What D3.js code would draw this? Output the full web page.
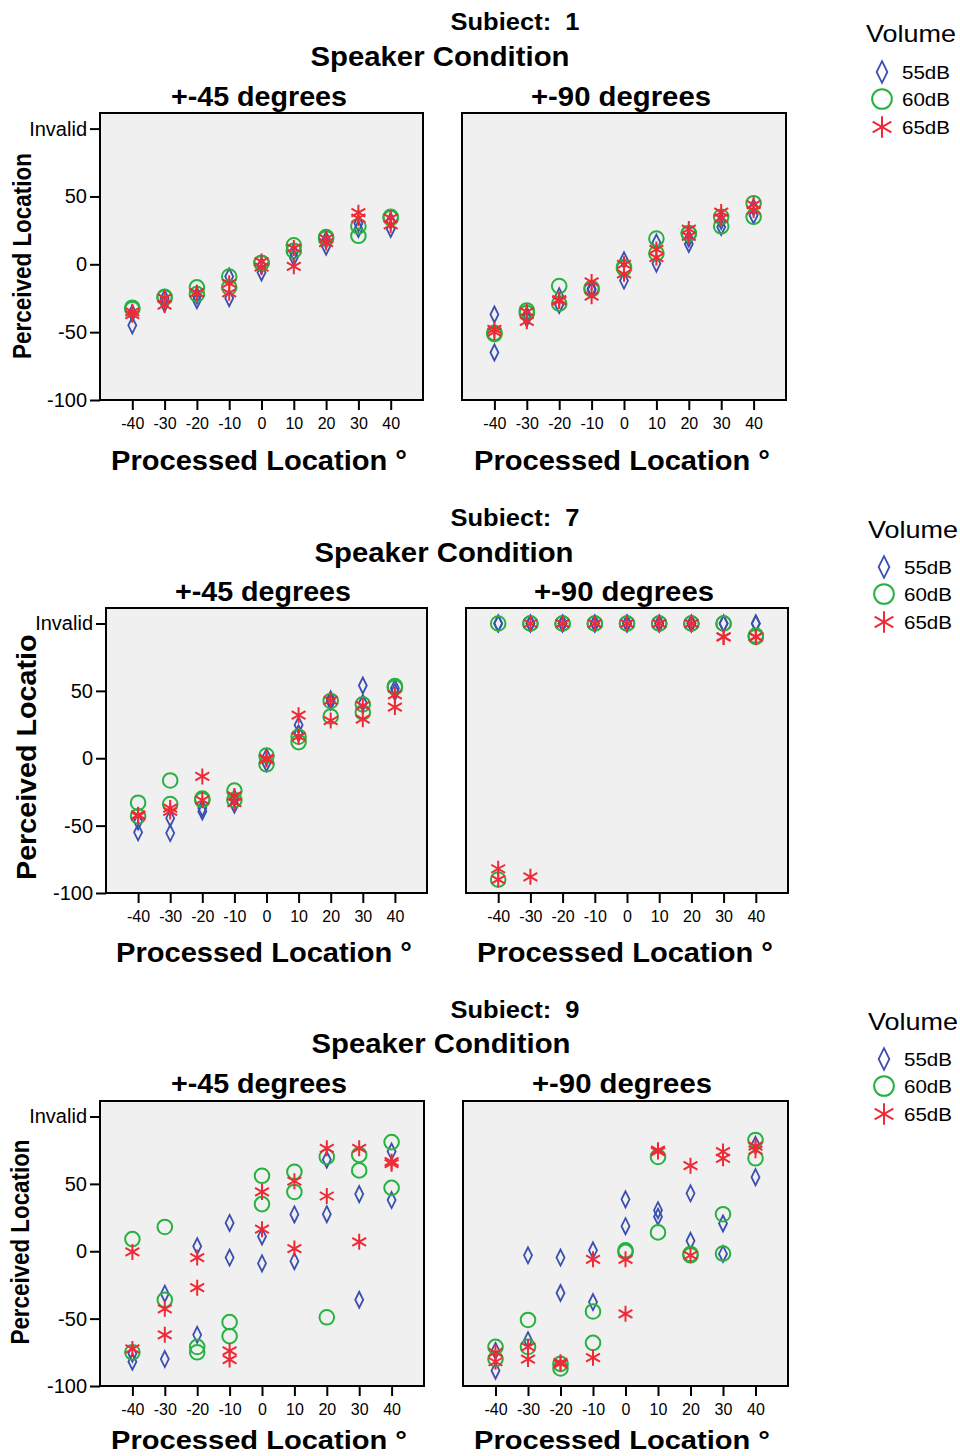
<!DOCTYPE html>
<html><head><meta charset="utf-8">
<script src="https://cdn.jsdelivr.net/npm/d3@7"></script>
<style>body{margin:0;background:#fff}</style></head>
<body><svg id="c" width="960" height="1456"></svg>
<script>
// ---------- data ----------
const xCategories = [-40,-30,-20,-10,0,10,20,30,40];
const xTickLabels = ["-40","-30","-20","-10","0","10","20","30","40"];
const yTickValues = [-100,-50,0,50,100];
const yTickLabels = ["-100","-50","0","50","Invalid"];
const volumes = ["55dB","60dB","65dB"];
const conditions = ["+-45 degrees","+-90 degrees"];
const subjects = ["1","7","9"];
// Invalid responses are plotted at 100

// Subject 1, +-45
const s1_45_55 = [[-45,-36],[-29,-25],[-26.5,-23],[-25,-9],[-6,-1],[5,9],[13,18],[26,30],[26,32]];
const s1_45_60 = [[-32,-33],[-24.5,-24],[-17,-22],[-9,-17],[1,1],[14,10],[20,19],[28,21],[35,34]];
const s1_45_65 = [[-35,-37],[-25,-30],[-21,-21],[-14,-21],[2,-2],[12,-1.5],[19,16],[38,34],[34,29]];
// Subject 1, +-90
const s1_90_55 = [[-37,-65],[-37.5,-40],[-23.5,-30],[-18,-19],[3,-12],[16,0.5],[15,19],[27.5,32],[36,42]];
const s1_90_60 = [[-51.5,-50.5],[-34,-36],[-16,-29],[-17.5,-18.5],[-2,-3],[19,8],[23,22.5],[35,28],[45,35]];
const s1_90_65 = [[-48,-50],[-35,-42],[-26,-27],[-13,-23.5],[0,-7],[11,5],[26,20.5],[38.5,34],[44,40]];
// Subject 7, +-45
const s7_45_55 = [[-55,-47],[-55.5,-44.5],[-39.5,-37],[-34.5,-29.5],[-3.7,1],[24.7,18.5],[42,43.7],[54,41],[52,49]];
const s7_45_60 = [[-33,-43],[-16.5,-34],[-30,-31],[-24,-31],[2,-4.5],[16,12],[42.5,31],[40,34],[53.5,52.5]];
const s7_45_65 = [[-42,-43],[-37,-39.5],[-13.5,-31],[-28,-33],[0,-1],[32,16],[43,28],[39,29],[47,38]];
// Subject 7, +-90
const s7_90_55 = [[100,100],[100,100],[100,100],[100,100],[100,100],[100,100],[100,100],[100,100],[100,100]];
const s7_90_60 = [[100,-90],[100,100],[100,100],[100,100],[100,100],[100,100],[100,100],[100,100],[90,91]];
const s7_90_65 = [[-82,-90],[100,-88],[100,100],[100,100],[100,100],[100,100],[100,100],[90,90],[90,90]];
// Subject 9, +-45
const s9_45_55 = [[-82,-76],[-31.5,-80],[3.7,-62],[21,-4.7],[11,-9],[27.3,-7.4],[68,27.5],[42.4,-36],[74,38]];
const s9_45_60 = [[9,-75],[18,-36],[-71,-75],[-52.6,-63],[56,35],[59,44],[70,-49],[71.5,60],[81,47]];
const s9_45_65 = [[-0.5,-72.5],[-42.7,-62],[-4.7,-27],[-74,-80.4],[44,16.4],[52,2],[76.4,41],[76.4,7],[66.5,65]];
// Subject 9, +-90
const s9_90_55 = [[-88.6,-74],[-3,-66],[-4.7,-31],[0.7,-37.7],[38.5,18.6],[30.5,25.6],[43,7.7],[20.6,-2],[55,79]];
const s9_90_60 = [[-71,-80],[-51,-71],[-83.6,-87],[-44.7,-68],[0.7,-0.5],[70,14],[-3,-2],[27.5,-1.7],[82.6,69]];
const s9_90_65 = [[-75,-82],[-71,-80],[-82.4,-83.6],[-6,-79],[-6,-46.4],[75,74],[63.5,-3],[74,69],[78,75]];

const panelData = [
  [[s1_45_55,s1_45_60,s1_45_65],[s1_90_55,s1_90_60,s1_90_65]],
  [[s7_45_55,s7_45_60,s7_45_65],[s7_90_55,s7_90_60,s7_90_65]],
  [[s9_45_55,s9_45_60,s9_45_65],[s9_90_55,s9_90_60,s9_90_65]]
];

// ---------- layout ----------
const FONT = "'Liberation Sans', Arial, Helvetica, sans-serif";
const COLORS = ["#3a4fb0","#27b240","#ee2a36"];
const rows = [
  {top:113, bottom:400, panels:[[100,423],[462,786]], subj:[515,30], speaker:[440,66], cond:[[259,106],[621,106]],
   xt:[[259,470],[622,470]], xtSize:27, yt:{x:31, cy:256, size:25, len:206}, legend:[866,42,882,[72,99,127]]},
  {top:608, bottom:893, panels:[[106,427],[466,788]], subj:[515,526], speaker:[444,562], cond:[[263,601],[624,601]],
   xt:[[264,962],[625,962]], xtSize:27, yt:{x:36, start:880, size:28, len:263, clip:634}, legend:[868,538,884,[567,594,622]]},
  {top:1101, bottom:1386, panels:[[100,424],[463,788]], subj:[515,1018], speaker:[441,1053], cond:[[259,1093],[622,1093]],
   xt:[[259,1449],[622,1449]], xtSize:26, yt:{x:29, cy:1242, size:25, len:205}, legend:[868,1030,884,[1059,1086,1114]]}
];

const svg = d3.select("#c");
svg.append("rect").attr("width",960).attr("height",1456).attr("fill","#fff");

function txt(g, x, y, s, o) {
  const t = g.append("text").attr("x",x).attr("y",y).text(s)
    .attr("font-family",FONT).attr("font-size",o.size)
    .attr("font-weight",o.bold?"bold":"normal")
    .attr("text-anchor",o.anchor||"middle").attr("fill","#000")
    .style("white-space","pre");
  if (o.len) t.attr("textLength",o.len).attr("lengthAdjust","spacingAndGlyphs");
  return t;
}

function marker(g, type, x, y, sc) {
  if (type===0) {
    const w=8*sc, h=16*sc;
    g.append("path").attr("d",`M${x},${y-h/2}L${x+w/2},${y}L${x},${y+h/2}L${x-w/2},${y}Z`)
      .attr("fill","none").attr("stroke",COLORS[0]).attr("stroke-width",1.8);
  } else if (type===1) {
    g.append("circle").attr("cx",x).attr("cy",y).attr("r",7.3*sc)
      .attr("fill","none").attr("stroke",COLORS[1]).attr("stroke-width",2);
  } else {
    const r=8*sc; let d="";
    [90,30,150].forEach(a=>{const rad=a*Math.PI/180, dx=r*Math.cos(rad), dy=r*Math.sin(rad);
      d+=`M${x-dx},${y+dy}L${x+dx},${y-dy}`;});
    g.append("path").attr("d",d).attr("fill","none").attr("stroke",COLORS[2]).attr("stroke-width",2);
  }
}

rows.forEach((R, ri) => {
  const g = svg.append("g");
  txt(g, R.subj[0], R.subj[1], "Subiect:  " + subjects[ri], {size:23, bold:true, len:129});
  txt(g, R.speaker[0], R.speaker[1], "Speaker Condition", {size:28, bold:true, len:259});

  // y title
  if (R.yt.clip) {
    const cid = "clipY"+ri;
    svg.append("clipPath").attr("id",cid).append("rect").attr("x",0).attr("y",R.yt.clip).attr("width",80).attr("height",400);
    const yg = g.append("g").attr("clip-path",`url(#${cid})`);
    txt(yg, 0, 0, "Perceived Location", {size:R.yt.size, bold:true, anchor:"start", len:R.yt.len})
      .attr("transform",`translate(${R.yt.x},${R.yt.start}) rotate(-90)`);
  } else {
    txt(g, 0, 0, "Perceived Location", {size:R.yt.size, bold:true, len:R.yt.len})
      .attr("transform",`translate(${R.yt.x},${R.yt.cy}) rotate(-90)`);
  }

  const y = d3.scaleLinear().domain([-100,111.5]).range([R.bottom, R.top]);

  R.panels.forEach((P, pi) => {
    const x = d3.scaleLinear().domain([-50,50]).range([P[0],P[1]]);
    const pg = g.append("g");
    pg.append("rect").attr("x",P[0]).attr("y",R.top).attr("width",P[1]-P[0]).attr("height",R.bottom-R.top)
      .attr("fill","#f0f0f0");
    // x axis
    const xa = pg.append("g").attr("transform",`translate(0,${R.bottom})`)
      .call(d3.axisBottom(x).tickValues(xCategories).tickSize(10).tickPadding(8)
        .tickFormat((d,i)=>xTickLabels[i]));
    xa.select(".domain").remove();
    xa.selectAll("line").attr("stroke","#000").attr("stroke-width",2);
    xa.selectAll("text").attr("font-family",FONT).attr("font-size",16).attr("fill","#000");
    // y axis on first panel only
    if (pi===0) {
      const ya = pg.append("g").attr("transform",`translate(${P[0]},0)`)
        .call(d3.axisLeft(y).tickValues(yTickValues).tickSize(10).tickPadding(3)
          .tickFormat((d,i)=>yTickLabels[i]));
      ya.select(".domain").remove();
      ya.selectAll("line").attr("stroke","#000").attr("stroke-width",2);
      ya.selectAll("text").attr("font-family",FONT).attr("font-size",20).attr("fill","#000");
    }
    // points
    const series = panelData[ri][pi];
    series.forEach((arr, vi) => {
      arr.forEach((vals, k) => {
        vals.forEach(v => marker(pg, vi, x(xCategories[k]), y(v), 1));
      });
    });
    pg.append("rect").attr("x",P[0]).attr("y",R.top).attr("width",P[1]-P[0]).attr("height",R.bottom-R.top)
      .attr("fill","none").attr("stroke","#000").attr("stroke-width",2);

    txt(g, R.cond[pi][0], R.cond[pi][1], conditions[pi], {size:27, bold:true, len: pi===0?176:180});
    txt(g, R.xt[pi][0], R.xt[pi][1], "Processed Location °", {size:R.xtSize, bold:true, len:296});
  });

  // legend
  const L = R.legend;
  txt(g, L[0], L[1], "Volume", {size:24, anchor:"start", len:90});
  volumes.forEach((v, vi) => {
    marker(g, vi, L[2], L[3][vi], 1.35);
    txt(g, L[2]+20, L[3][vi]+7, v, {size:19, anchor:"start", len:48});
  });
});
</script></body></html>
